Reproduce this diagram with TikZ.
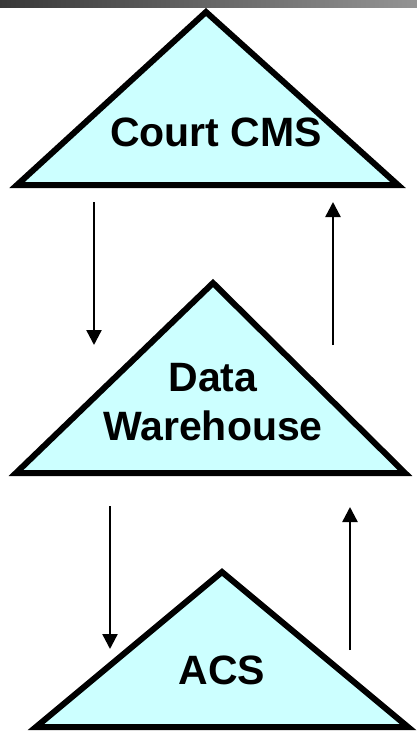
\documentclass[tikz,border=0pt]{standalone}
\usepackage{fontspec}
\setmainfont{Liberation Sans}
\usetikzlibrary{arrows.meta}
\definecolor{paleaqua}{HTML}{CCFFFF}
\begin{document}
\begin{tikzpicture}
            [x=1pt, y=-1pt, font=\fontsize{41}{49}\selectfont\bfseries,
            system/.style={draw=black, line width=6pt, line join=miter, fill=paleaqua},
            flow/.style={draw=black, line width=2.4pt, -{Triangle[width=15pt, length=15pt]}}]
            \useasboundingbox (0,0) rectangle (417,732);
            \shade [left color=black!78, right color=black!42] (0,0) rectangle (417,7);
            % the three systems
            \draw [system] (206,12) -- (398,185) -- (17,185) -- cycle;
            \node (cms) at (216,132) {Court CMS};
            \draw [system] (213,283) -- (405,473) -- (16,473) -- cycle;
            \node [align=center] (warehouse) at (213,402) {Data\\Warehouse};
            \draw [system] (222,572) -- (408,727) -- (36,727) -- cycle;
            \node (acs) at (222,670) {ACS};
            % flows between them
            \coordinate (cmsout) at (94,202);
            \coordinate (whin) at (94,345);
            \coordinate (whout) at (333,345);
            \coordinate (cmsin) at (333,202);
            \coordinate (whdown) at (110,506);
            \coordinate (acsin) at (110,649);
            \coordinate (acsout) at (350,650);
            \coordinate (whup) at (350,507);
            \draw [flow] (cmsout) -- (whin);
            \draw [flow] (whout) -- (cmsin);
            \draw [flow] (whdown) -- (acsin);
            \draw [flow] (acsout) -- (whup);
\end{tikzpicture}
\end{document}
